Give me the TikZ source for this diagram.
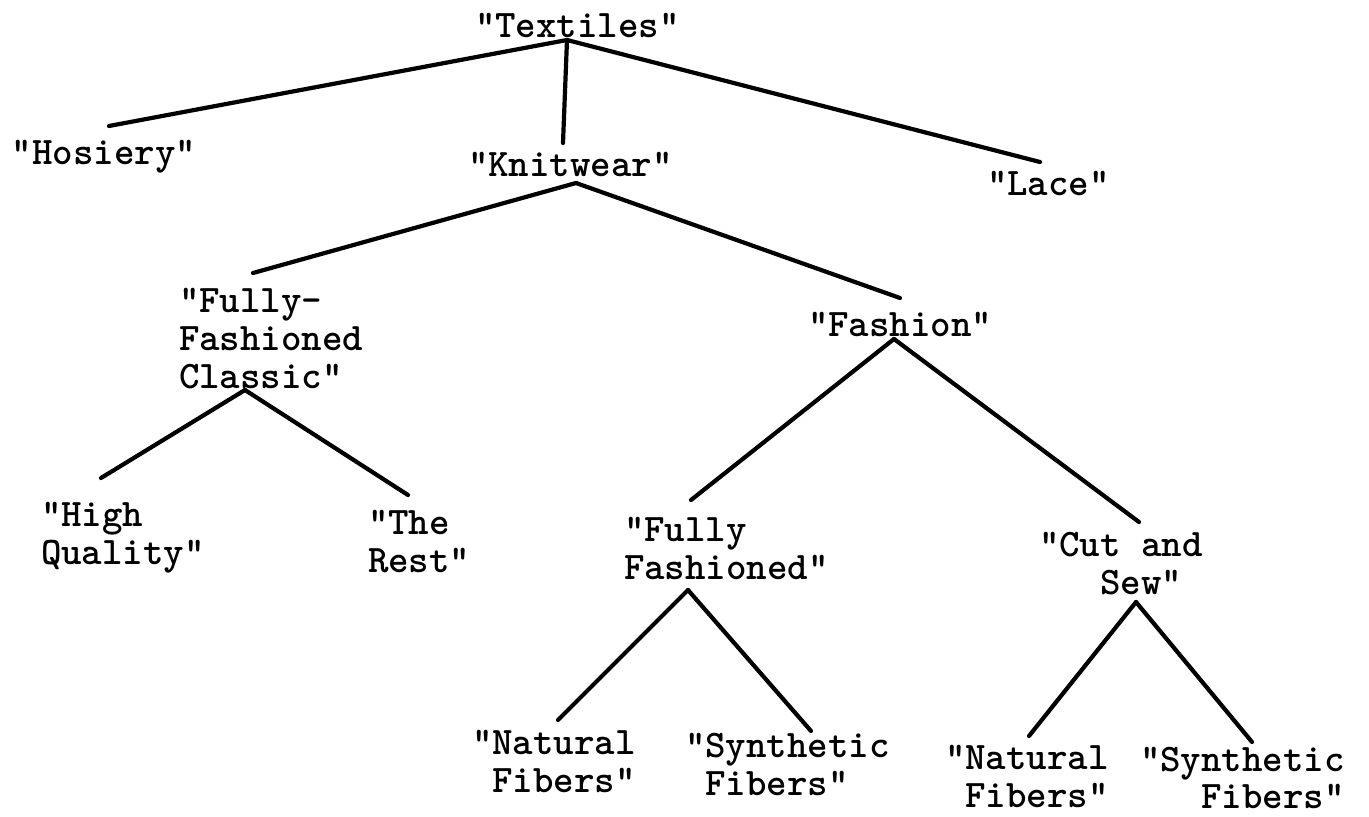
\documentclass[tikz,border=0pt]{standalone}
\begin{document}
\begin{tikzpicture}[x=1pt,y=-1pt]
\tikzset{
  lbl/.style={anchor=north west, inner sep=0pt, outer sep=0pt, align=left,
              font=\ttfamily\bfseries\fontsize{39}{38}\selectfont},
  conn/.style={line width=4.2pt, line cap=round, black}
}
\useasboundingbox (0,0) rectangle (1369,817);
\fill[white] (0,0) rectangle (1369,817);

% nodes
\node[lbl] (textiles) at (475,13)  {"Textiles"};
\node[lbl] (hosiery)  at (12,140)  {"Hosiery"};
\node[lbl] (knitwear) at (468,152) {"Knitwear"};
\node[lbl] (lace)     at (987,171) {"Lace"};
\node[lbl] (ffc)      at (179,288) {"Fully-\\Fashioned\\Classic"};
\node[lbl] (fashion)  at (808,312) {"Fashion"};
\node[lbl] (hq)       at (41,502)  {"High\\Quality"};
\node[lbl] (rest)     at (368,510) {"The\\Rest"};
\node[lbl] (ff)       at (624,517) {"Fully\\Fashioned"};
\node[lbl] (cs)       at (1039,532) {"Cut and\\\phantom{xxx}Sew"};
\node[lbl] (nfa)      at (472,730) {"Natural\\\phantom{x}Fibers"};
\node[lbl] (sfa)      at (685,733) {"Synthetic\\\phantom{x}Fibers"};
\node[lbl] (nfb)      at (945,745) {"Natural\\\phantom{x}Fibers"};
\node[lbl,font=\ttfamily\bfseries\fontsize{39}{37}\selectfont] (sfb) at (1140,747) {"Synthetic\\\phantom{xxx}Fibers"};

% connectors
\draw[conn] ([shift={(92,27)}]textiles.north west) -- ([shift={(97,-14)}]hosiery.north west);
\draw[conn] ([shift={(92,27)}]textiles.north west) -- ([shift={(95,-9)}]knitwear.north west);
\draw[conn] ([shift={(92,27)}]textiles.north west) -- ([shift={(53,-9)}]lace.north west);

\draw[conn] ([shift={(108,31)}]knitwear.north west) -- ([shift={(74,-15)}]ffc.north west);
\draw[conn] ([shift={(108,31)}]knitwear.north west) -- ([shift={(92,-14)}]fashion.north west);

\draw[conn] ([shift={(66,102)}]ffc.north west) -- ([shift={(60,-24)}]hq.north west);
\draw[conn] ([shift={(66,102)}]ffc.north west) -- ([shift={(40,-15)}]rest.north west);

\draw[conn] ([shift={(86,27)}]fashion.north west) -- ([shift={(67,-17)}]ff.north west);
\draw[conn] ([shift={(86,27)}]fashion.north west) -- ([shift={(100,-10)}]cs.north west);

\draw[conn] ([shift={(64,73)}]ff.north west) -- ([shift={(86,-10)}]nfa.north west);
\draw[conn] ([shift={(64,73)}]ff.north west) -- ([shift={(126,-2)}]sfa.north west);

\draw[conn] ([shift={(97,70)}]cs.north west) -- ([shift={(84,-9)}]nfb.north west);
\draw[conn] ([shift={(97,70)}]cs.north west) -- ([shift={(112,-5)}]sfb.north west);
\end{tikzpicture}
\end{document}
